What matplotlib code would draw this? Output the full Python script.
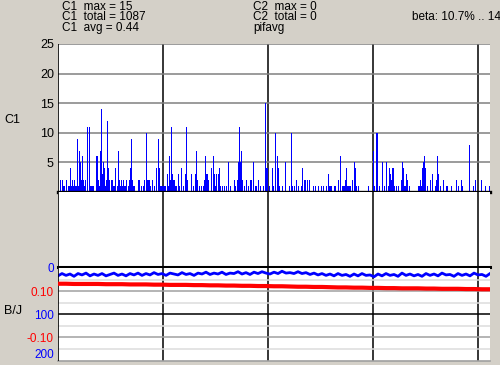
import numpy as np
import matplotlib.pyplot as plt

# C1 counts per sample column (only non-zero columns listed)
c1_cols = [2, 4, 5, 6, 8, 10, 11, 12, 13, 14, 15, 16, 17, 18, 19, 20, 21, 22, 23, 24,
           25, 26, 27, 29, 31, 32, 33, 34, 35, 38, 39, 40, 41, 42, 43, 44, 45, 46, 47, 48,
           49, 50, 51, 53, 54, 55, 56, 57, 59, 60, 61, 62, 63, 64, 65, 66, 67, 68, 70, 71,
           72, 73, 74, 75, 76, 80, 81, 83, 85, 86, 88, 89, 90, 91, 92, 94, 96, 98, 100, 101,
           102, 103, 104,
           105, 106, 107, 109, 110, 111, 112, 113, 114, 115, 116, 117, 118, 120, 121, 123, 125, 127, 128, 129,
           133, 135, 137, 138, 139, 141, 143, 145, 146, 147, 148, 149, 150, 153, 155, 156, 157, 158, 160, 161,
           162, 164, 166, 168, 170, 172, 176, 177, 179, 180, 181, 182, 183, 184, 186, 188, 190, 192, 193, 195,
           197, 198, 200, 202, 205, 207, 208, 209,
           211, 214, 215, 217, 219, 220, 221, 224, 227, 231, 233, 234, 236, 238, 240, 243, 244, 246, 247, 249,
           251, 255, 257, 260, 263, 265, 268, 270, 271,
           272, 273, 276, 277, 280, 282, 284, 285, 286, 287, 288, 289, 290, 291, 292, 294, 296, 297, 298, 300,
           310, 315, 316, 318, 319, 321, 324, 326, 328, 330, 331, 332, 333, 334, 335, 336, 338, 340, 343, 344,
           345, 346, 347, 348, 349, 351, 360, 361, 362, 363, 364, 365, 366, 367, 369, 372, 374, 377, 378, 379,
           380, 382, 385, 388, 389, 393, 398, 400, 403, 404, 411, 415, 417, 423, 427, 431]
c1_vals = [2, 2, 1, 1, 2, 1, 1, 4, 1, 2, 1, 2, 1, 1, 9, 1, 7, 5, 2, 6,
           2, 1, 2, 11, 11, 1, 1, 1, 1, 6, 6, 2, 1, 7, 14, 3, 5, 4, 1, 2,
           12, 4, 2, 2, 2, 1, 1, 4, 1, 7, 2, 1, 2, 1, 2, 1, 1, 2, 1, 2,
           4, 9, 2, 1, 1, 2, 2, 1, 1, 2, 10, 2, 2, 2, 1, 2, 1, 4, 9, 4,
           1, 1, 1,
           1, 1, 1, 3, 1, 6, 2, 11, 3, 2, 2, 1, 1, 3, 1, 4, 1, 3, 11, 2,
           3, 1, 3, 7, 2, 1, 1, 1, 2, 6, 3, 3, 2, 4, 6, 3, 1, 3, 3, 4,
           1, 1, 1, 1, 5, 1, 2, 1, 2, 5, 11, 5, 7, 2, 1, 2, 1, 2, 2, 5,
           1, 1, 2, 1, 1, 15, 4, 4,
           1, 4, 1, 10, 6, 4, 1, 1, 5, 1, 10, 1, 1, 2, 1, 1, 4, 2, 2, 2,
           2, 1, 1, 1, 1, 1, 1, 3, 1,
           1, 1, 1, 1, 2, 6, 1, 1, 1, 2, 4, 1, 1, 1, 1, 2, 5, 4, 1, 1,
           1, 7, 1, 10, 10, 1, 5, 1, 5, 1, 4, 3, 2, 4, 4, 1, 1, 1, 2, 5,
           4, 1, 1, 3, 2, 1, 1, 1, 2, 1, 4, 5, 6, 4, 1, 2, 3, 1, 2, 6,
           3, 1, 2, 1, 1, 1, 2, 1, 2, 1, 8, 1, 2, 2, 1, 1]

# B/J trace (blue, 0..200 axis) and beta trace (red, +-0.2 axis)
bj_vals = [17, 12, 16, 13, 18, 12, 15, 11, 17, 13,
           16, 12, 17, 14, 11, 16, 13, 17, 12, 15,
           11, 16, 12, 15, 10, 14, 12, 16, 11, 13,
           15, 10, 14, 12, 16, 11, 13, 9, 14, 11,
           13, 9, 14, 11, 12, 8, 13, 10, 14, 9,
           12, 8, 11, 13, 9, 12, 7, 11, 10, 12,
           8, 12, 10, 14, 11, 15, 12, 16, 13, 17,
           12, 16, 14, 18, 13, 17, 12, 16, 15, 19,
           13, 17, 12, 16, 14, 18, 11, 16, 13, 17,
           14, 18, 12, 16, 13, 17, 11, 15, 14, 18,
           12, 16, 13, 17, 11, 15, 14, 18, 12]
beta_vals = [0.132, 0.132, 0.131, 0.131, 0.131, 0.131, 0.130, 0.130, 0.130, 0.129,
             0.129, 0.129, 0.128, 0.128, 0.127, 0.127, 0.127, 0.126, 0.126, 0.125,
             0.125, 0.124, 0.124, 0.123, 0.123, 0.122, 0.122, 0.121, 0.121, 0.120,
             0.119, 0.119, 0.118, 0.118, 0.117, 0.116, 0.116, 0.115, 0.115, 0.114,
             0.114, 0.113, 0.113, 0.112, 0.112, 0.112, 0.111, 0.111, 0.110, 0.110,
             0.110, 0.109, 0.109, 0.108, 0.108]

c1_ticks = [5, 10, 15, 20, 25]
bj_ticks = [0, 100, 200]
beta_ticks = [0.10, -0.10]
beta_labels = ['0.10', '-0.10']
n_cols = 432
div_cols = [105, 210, 315, 420]

W, H = 500, 365
BG = '#d4d0c8'
plt.rcParams['font.family'] = 'Liberation Sans'

fig = plt.figure(figsize=(W / 100, H / 100), dpi=100, facecolor=BG)


def px_axes(x0, y0, x1, y1):
    return fig.add_axes([x0 / W, 1 - y1 / H, (x1 - x0) / W, (y1 - y0) / H])


def frame(ax):
    ax.set_xlim(0, n_cols)
    ax.set_facecolor('white')
    ax.set_xticks([])
    for s in ax.spines.values():
        s.set_visible(False)
    ax.axvline(0, color='black', lw=1.2, zorder=4)
    for c in div_cols:
        ax.axvline(c, color='black', lw=1.1, zorder=1)
    ax.tick_params(axis='y', length=0, pad=3, labelsize=9)


# top panel: C1 bars
ax1 = px_axes(58, 44, 490, 192)
frame(ax1)
ax1.set_ylim(0, 25)
for t in c1_ticks:
    ax1.axhline(t, color='#808080', lw=1.1, zorder=1)
ax1.bar(c1_cols, c1_vals, width=1.0, align='edge', color='#0000ff', linewidth=0, zorder=2)
ax1.set_yticks(c1_ticks)
ax1.axhline(0, color='black', lw=2.4, zorder=5, clip_on=False)

# middle panel: empty
ax2 = px_axes(58, 192, 490, 267)
frame(ax2)
ax2.set_ylim(0, 1)
ax2.set_yticks([])
ax2.axhline(0, color='black', lw=2.2, zorder=5, clip_on=False)

# bottom panel: B/J and beta
ax3 = px_axes(58, 268, 490, 360.5)
frame(ax3)
ax3.set_ylim(200, 0)
for t, c in [(25, '#dcdcdc'), (50, '#a0a0a0'), (75, '#dcdcdc'), (100, 'black'),
             (125, '#dcdcdc'), (150, '#a0a0a0'), (175, '#dcdcdc')]:
    ax3.axhline(t, color=c, lw=1.1, zorder=1)
ax3.axhline(200, color='#a0a0a0', lw=1.2, zorder=1, clip_on=False)
ax3.plot(np.linspace(0, n_cols, len(bj_vals)), bj_vals, color='#0000ff', lw=2.0, zorder=3)
ax3.set_yticks(bj_ticks)
ax3.tick_params(axis='y', labelcolor='#0000ff', labelsize=8.5)
# keep the last label inside the figure
ax3.get_yticklabels()[-1].set_va('bottom')

ax4 = ax3.twinx()
ax4.set_ylim(-0.2, 0.2)
for s in ax4.spines.values():
    s.set_visible(False)
ax4.yaxis.tick_left()
ax4.set_yticks(beta_ticks)
ax4.set_yticklabels(beta_labels)
ax4.tick_params(axis='y', length=0, pad=3, labelsize=8.5, labelcolor='#ff0000')
ax4.plot(np.linspace(0, n_cols, len(beta_vals)), beta_vals, color='#ff0000', lw=3.0, zorder=3)

# labels and header text
fig.text(4 / W, 1 - 120 / H, 'C1', fontsize=9, va='center', ha='left')
fig.text(4 / W, 1 - 311 / H, 'B/J', fontsize=9, va='center', ha='left')

hdr = dict(fontsize=8.5, va='center', ha='left')
fig.text(62 / W, 1 - 6.5 / H, 'C1  max = 15', **hdr)
fig.text(62 / W, 1 - 17.5 / H, 'C1  total = 1087', **hdr)
fig.text(62 / W, 1 - 28.5 / H, 'C1  avg = 0.44', **hdr)
fig.text(253 / W, 1 - 6.5 / H, 'C2  max = 0', **hdr)
fig.text(253 / W, 1 - 17.5 / H, 'C2  total = 0', **hdr)
fig.text(253 / W, 1 - 28.5 / H, 'pifavg', **hdr)
fig.text(412 / W, 1 - 17.5 / H, 'beta: 10.7% .. 14.4%', **hdr)

fig.savefig('out.png', dpi=100, facecolor=BG)
